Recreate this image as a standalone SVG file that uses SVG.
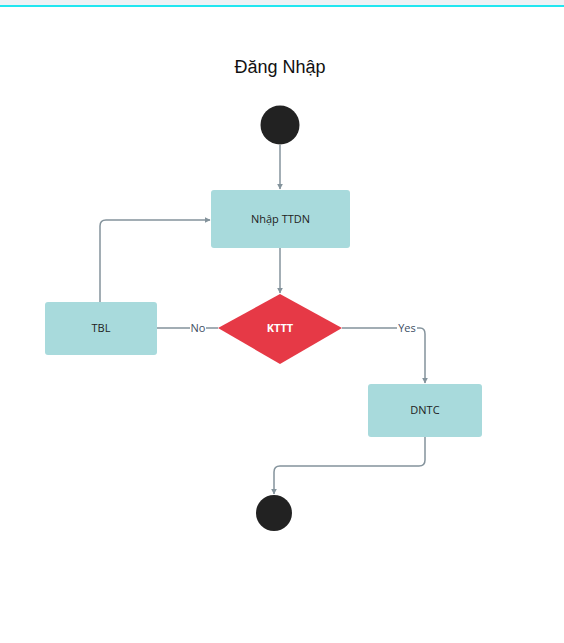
<svg xmlns="http://www.w3.org/2000/svg" width="564" height="643" viewBox="0 0 564 643">
<style>
.box{fill:#a8dadc;}
.lbl{font-family:"Open Sans","Liberation Sans",sans-serif;font-size:11px;fill:#222;text-anchor:middle;}
.edge{fill:none;stroke:#84939c;stroke-width:1.5;}
.elbl{font-family:"Open Sans","Liberation Sans",sans-serif;font-size:11px;fill:#3d4e63;text-anchor:middle;}
</style>
<defs>
<marker id="ah" viewBox="0 0 10 10" refX="9" refY="5" markerWidth="6" markerHeight="6" orient="auto" markerUnits="userSpaceOnUse">
<path d="M0,0 L10,5 L0,10 z" fill="#84939c"/>
</marker>
</defs>
<rect x="0" y="0" width="564" height="5" fill="#eef2f5"/>
<rect x="0" y="5" width="564" height="2" fill="#22e6f0"/>
<text x="280" y="73" font-family="'Liberation Sans',Arial,sans-serif" font-size="18" fill="#111" text-anchor="middle">Đăng Nhập</text>
<g id="connectors">
<path class="edge" d="M280,145 L280,189" marker-end="url(#ah)"/>
<path class="edge" d="M280,248 L280,293" marker-end="url(#ah)"/>
<path class="edge" d="M218,328 L206,328 M190,328 L157,328"/>
<text class="elbl" x="198" y="332">No</text>
<path class="edge" d="M100,302 L100,226 Q100,220 106,220 L210,220" marker-end="url(#ah)"/>
<path class="edge" d="M342,328 L397,328 M417,328 L420,328 Q425,328 425,334 L425,383" marker-end="url(#ah)"/>
<text class="elbl" x="407" y="332">Yes</text>
<path class="edge" d="M425,437 L425,460 Q425,466 419,466 L280,466 Q274,466 274,472 L274,494" marker-end="url(#ah)"/>
</g>
<g id="start"><circle cx="280" cy="125" r="19.5" fill="#222"/></g>
<g id="nhap"><rect class="box" x="211" y="190" width="139" height="58" rx="3"/><text class="lbl" x="280.5" y="223">Nhập TTDN</text></g>
<g id="kttt"><polygon points="280,294 342,328 280,364 218,328" fill="#e63946"/><text x="280" y="332" font-family="'Open Sans','Liberation Sans',sans-serif" font-size="11" font-weight="bold" fill="#fff" text-anchor="middle">KTTT</text></g>
<g id="tbl"><rect class="box" x="45" y="302" width="112" height="53" rx="3"/><text class="lbl" x="101" y="332">TBL</text></g>
<g id="dntc"><rect class="box" x="368" y="384" width="114" height="53" rx="3"/><text class="lbl" x="425" y="414">DNTC</text></g>
<g id="end"><circle cx="274" cy="513" r="18" fill="#222"/></g>
</svg>
